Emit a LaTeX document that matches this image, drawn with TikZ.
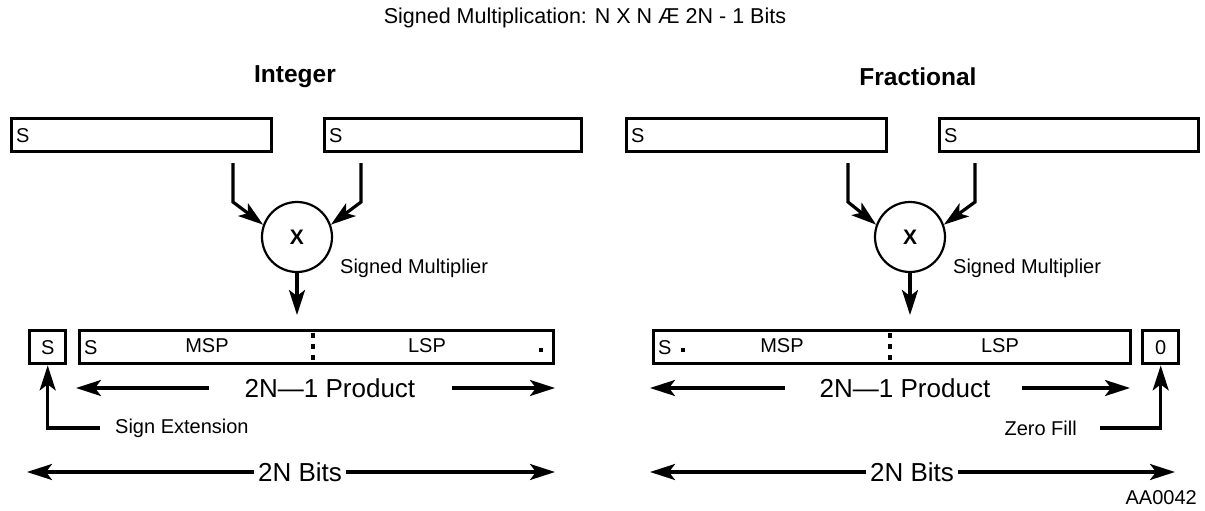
\documentclass[tikz,border=0pt]{standalone}
\usepackage{fontspec}
\setmainfont{Liberation Sans}
\usetikzlibrary{arrows.meta}
\begin{document}
\begin{tikzpicture}[x=1pt,y=-1pt,
  reg/.style={draw, line width=3.4pt, minimum height=33pt, inner sep=0pt, anchor=north west},
  mult/.style={circle, draw, line width=2.2pt, minimum size=70pt, inner sep=0pt, font=\fontsize{21}{21}\selectfont\bfseries},
  arr/.style={line width=3.2pt, -{Stealth[length=25pt,width=16pt,inset=6pt]}},
  small/.style={font=\fontsize{20}{22}\selectfont, inner sep=0pt},
  big/.style={font=\fontsize{26}{28}\selectfont, inner sep=4pt},
  head/.style={font=\fontsize{24.5}{26}\selectfont\bfseries, inner sep=0pt},
  bindot/.style={fill, minimum size=4.5pt, inner sep=0pt},
  sep/.style={line width=4.5pt, dash pattern=on 4.5pt off 6.5pt}
]
\useasboundingbox (0,0) rectangle (1205,511);

% title
\node[small, font=\fontsize{21.5}{23}\selectfont] (title) at (585,18) {Signed Multiplication: N X N Æ 2N - 1 Bits};

% ================= Integer =================
\node[head] (hint) at (295,77) {Integer};
\node[reg, minimum width=260pt] (ia) at (10,117) {};
\node[reg, minimum width=257pt] (ib) at (323,117) {};
\node[small, anchor=west] (iaS) at ([xshift=6pt]ia.west) {S};
\node[small, anchor=west] (ibS) at ([xshift=6pt]ib.west) {S};

\node[mult] (ic) at (297,237) {X};
\node[small, anchor=west] (icl) at (340,268) {Signed Multiplier};
\coordinate (iaf) at (233,163);
\coordinate (ibf) at (361,163);
\draw[arr] (iaf) -- (233,202) -- (ic.160);
\draw[arr] (ibf) -- (361,202) -- (ic.20);
\coordinate (iout) at (297,315);
\draw[arr] (ic.south) -- (iout);

\node[reg, minimum width=36pt] (ise) at (28,329) {};
\node[small] (iseS) at (ise.center) {S};
\node[reg, minimum width=474pt] (ip) at (78,329) {};
\node[small, anchor=west] (ipS) at ([xshift=6pt]ip.west) {S};
\node[small] (ipM) at (207,346) {MSP};
\node[small] (ipL) at (427,346) {LSP};
\draw[sep] (313,333) -- (313,360);
\node[bindot] (ipd) at (541,350) {};

\node[big] (iprod) at (330,388) {2N—1 Product};
\coordinate (iprl) at (209,388);
\coordinate (iprr) at (452,388);
\draw[arr] (iprl) -- (76,388);
\draw[arr] (iprr) -- (555,388);

\node[small, anchor=west] (isel) at (115,428) {Sign Extension};
\coordinate (isef) at (100,428);
\draw[arr] (isef) -- (ise.south |- isef) -- (ise.south);

\node[big] (ibits) at (300,472) {2N Bits};
\draw[arr] (ibits.west) -- (27,472);
\draw[arr] (ibits.east) -- (555,472);

% ================= Fractional =================
\node[head] (hfr) at (918,77) {Fractional};
\node[reg, minimum width=260pt] (fa) at (625,117) {};
\node[reg, minimum width=259pt] (fb) at (938,117) {};
\node[small, anchor=west] (faS) at ([xshift=6pt]fa.west) {S};
\node[small, anchor=west] (fbS) at ([xshift=6pt]fb.west) {S};

\node[mult] (fc) at (910,237) {X};
\node[small, anchor=west] (fcl) at (953,268) {Signed Multiplier};
\coordinate (faf) at (848,163);
\coordinate (fbf) at (975,163);
\draw[arr] (faf) -- (848,202) -- (fc.160);
\draw[arr] (fbf) -- (975,202) -- (fc.20);
\coordinate (fout) at (910,315);
\draw[arr] (fc.south) -- (fout);

\node[reg, minimum width=477pt] (fp) at (652,329) {};
\node[small, anchor=west] (fpS) at ([xshift=6pt]fp.west) {S};
\node[bindot] (fpd) at (683,350) {};
\node[small] (fpM) at (782,346) {MSP};
\node[small] (fpL) at (1000,346) {LSP};
\draw[sep] (890,333) -- (890,360);
\node[reg, minimum width=36pt] (fz) at (1141,329) {};
\node[small] (fzT) at (fz.center) {0};

\node[big] (fprod) at (905,388) {2N—1 Product};
\coordinate (fprl) at (785,388);
\coordinate (fprr) at (1022,388);
\draw[arr] (fprl) -- (650,388);
\draw[arr] (fprr) -- (1130,388);

\node[small, anchor=east] (fzl) at (1077,428) {Zero Fill};
\coordinate (fzf) at (1100,428);
\draw[arr] (fzf) -- (fz.south |- fzf) -- (fz.south);

\node[big] (fbits) at (912,472) {2N Bits};
\draw[arr] (fbits.west) -- (650,472);
\draw[arr] (fbits.east) -- (1175,472);

\node[small, anchor=east] (code) at (1197,498) {AA0042};
\end{tikzpicture}
\end{document}
